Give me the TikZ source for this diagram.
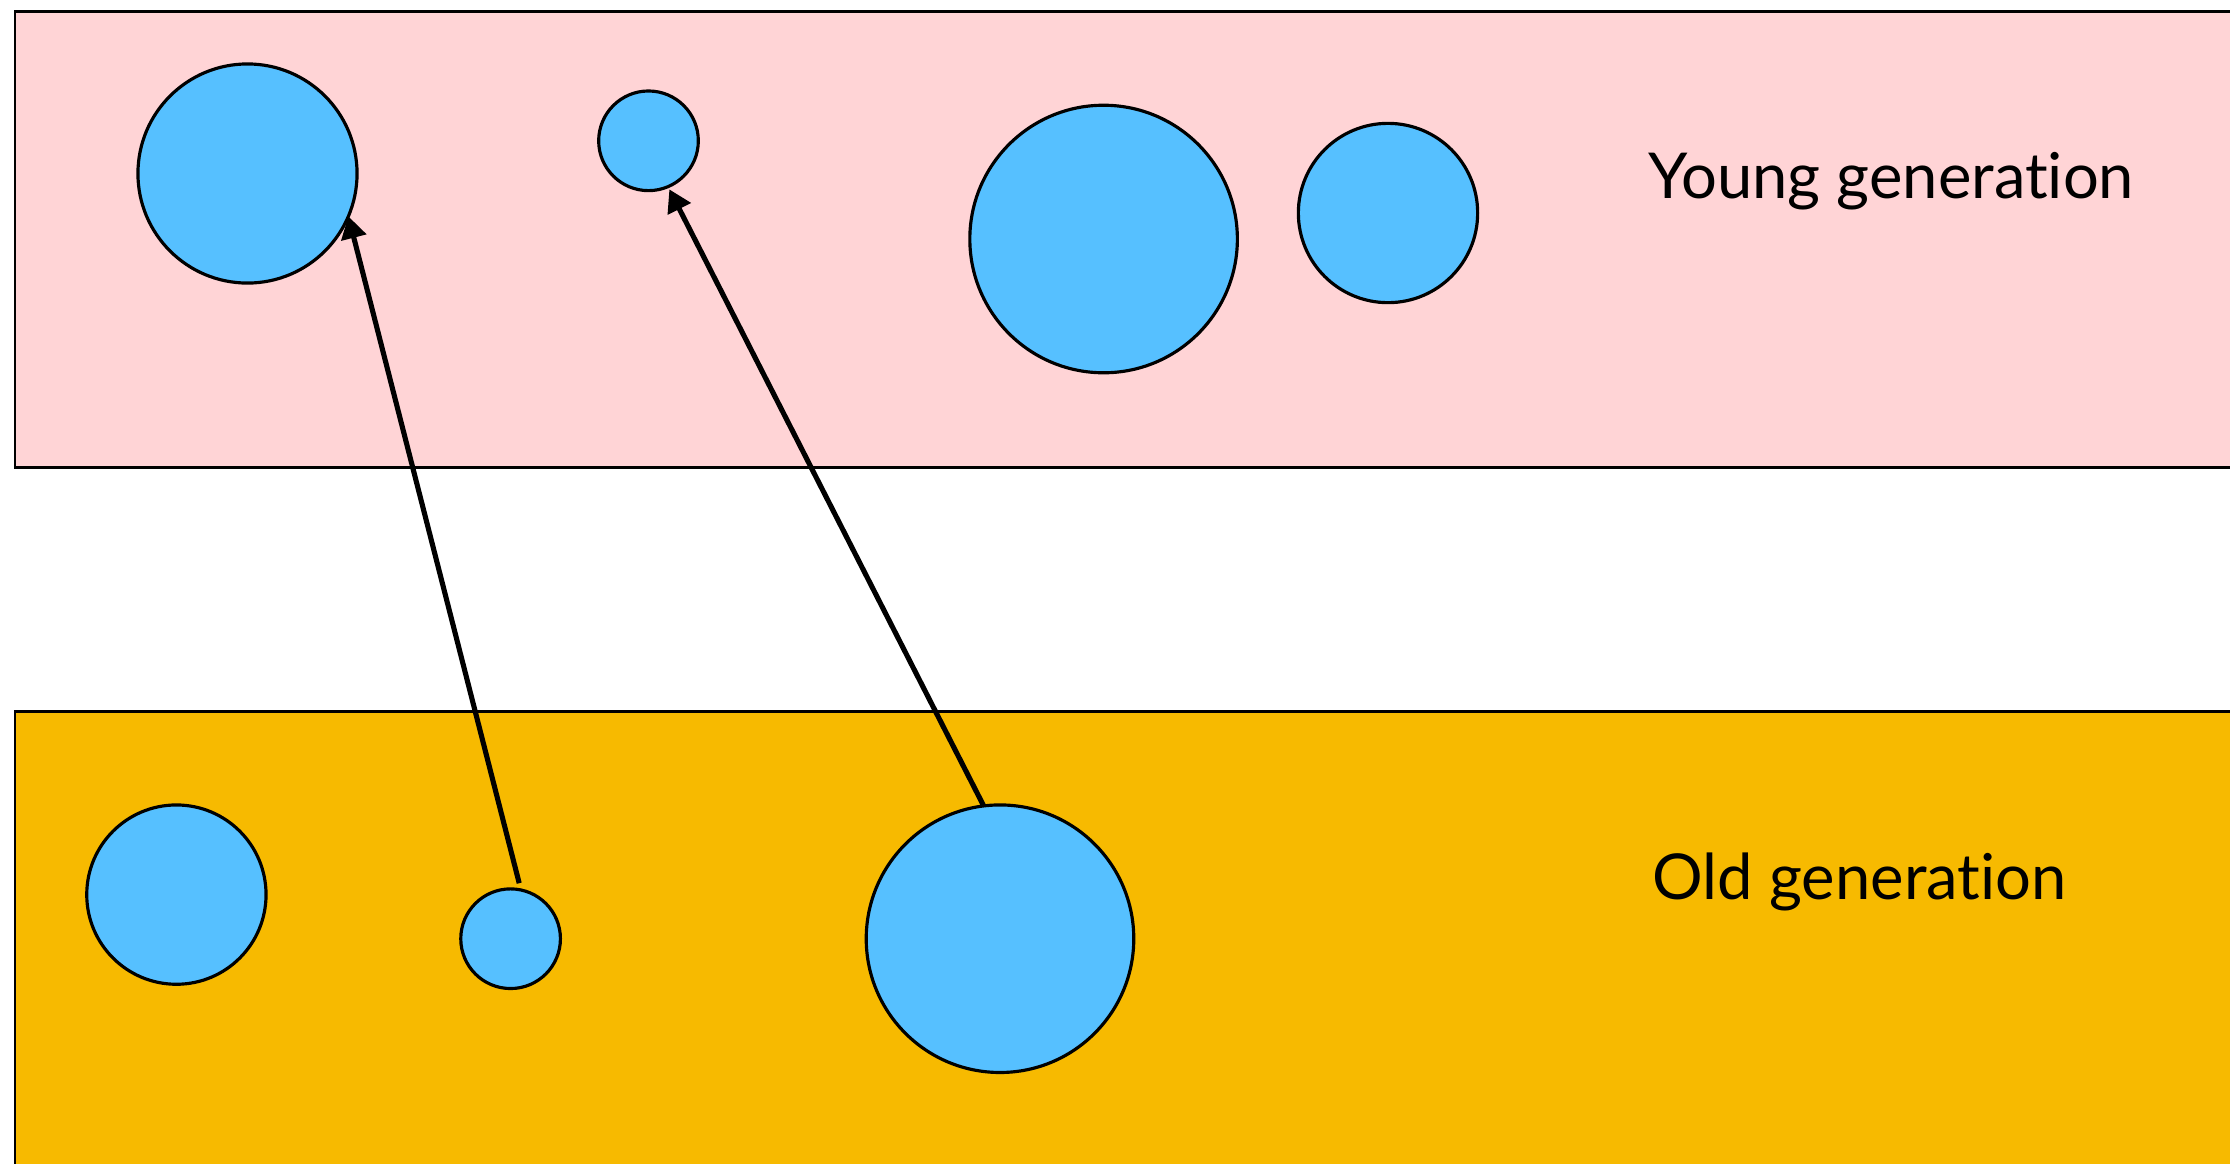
\documentclass[tikz,border=0pt]{standalone}
\usepackage{fontspec}
\setmainfont[Ligatures=NoCommon]{Lato}
\usepackage{tikz}
\usetikzlibrary{arrows.meta}

\definecolor{younggen}{RGB}{255,212,214}
\definecolor{oldgen}{RGB}{247,186,0}
\definecolor{obj}{RGB}{86,192,255}

\tikzset{
  space/.style={draw=black, line width=0.85pt},
  obj/.style={circle, draw=black, fill=obj, line width=0.9pt, inner sep=0pt, outer sep=0pt, minimum size=#1},
  promote/.style={line width=1.45pt, -{Triangle[length=0.22cm,width=0.25cm]}},
  genlabel/.style={anchor=base west, inner sep=0pt, font=\fontsize{18}{21}\selectfont}
}

\begin{document}
\begin{tikzpicture}[x=0.01cm, y=-0.01cm]
\useasboundingbox (0,0) rectangle (2230,1163);

% the two heap areas
\fill[younggen] (15,11) rectangle (2245,467);
\draw[space] (2245,11) -- (15,11) -- (15,467) -- (2245,467);
\fill[oldgen] (15,711) rectangle (2245,1180);
\draw[space] (2245,711) -- (15,711) -- (15,1180);

\node[genlabel] (young) at (1648,198) {Young generation};
\node[genlabel] (old) at (1652,899) {Old generation};

% objects in the young generation
\node[obj=2.19cm] (y1) at (247.5,173.5) {};
\node[obj=0.996cm] (y2) at (648.5,140.8) {};
\node[obj=2.674cm] (y3) at (1103.6,239) {};
\node[obj=1.792cm] (y4) at (1388,213) {};

% objects in the old generation
\node[obj=1.792cm] (o1) at (176.4,894.6) {};
\node[obj=0.996cm] (o2) at (510.6,938.7) {};
\node[obj=2.674cm] (o3) at (1000,938.7) {};

\draw[promote, shorten <=0.07cm] (o2.78) -- (y1.-23);
\draw[promote, shorten >=0.03cm] (o3.97) -- (y2.-67);
\end{tikzpicture}
\end{document}
